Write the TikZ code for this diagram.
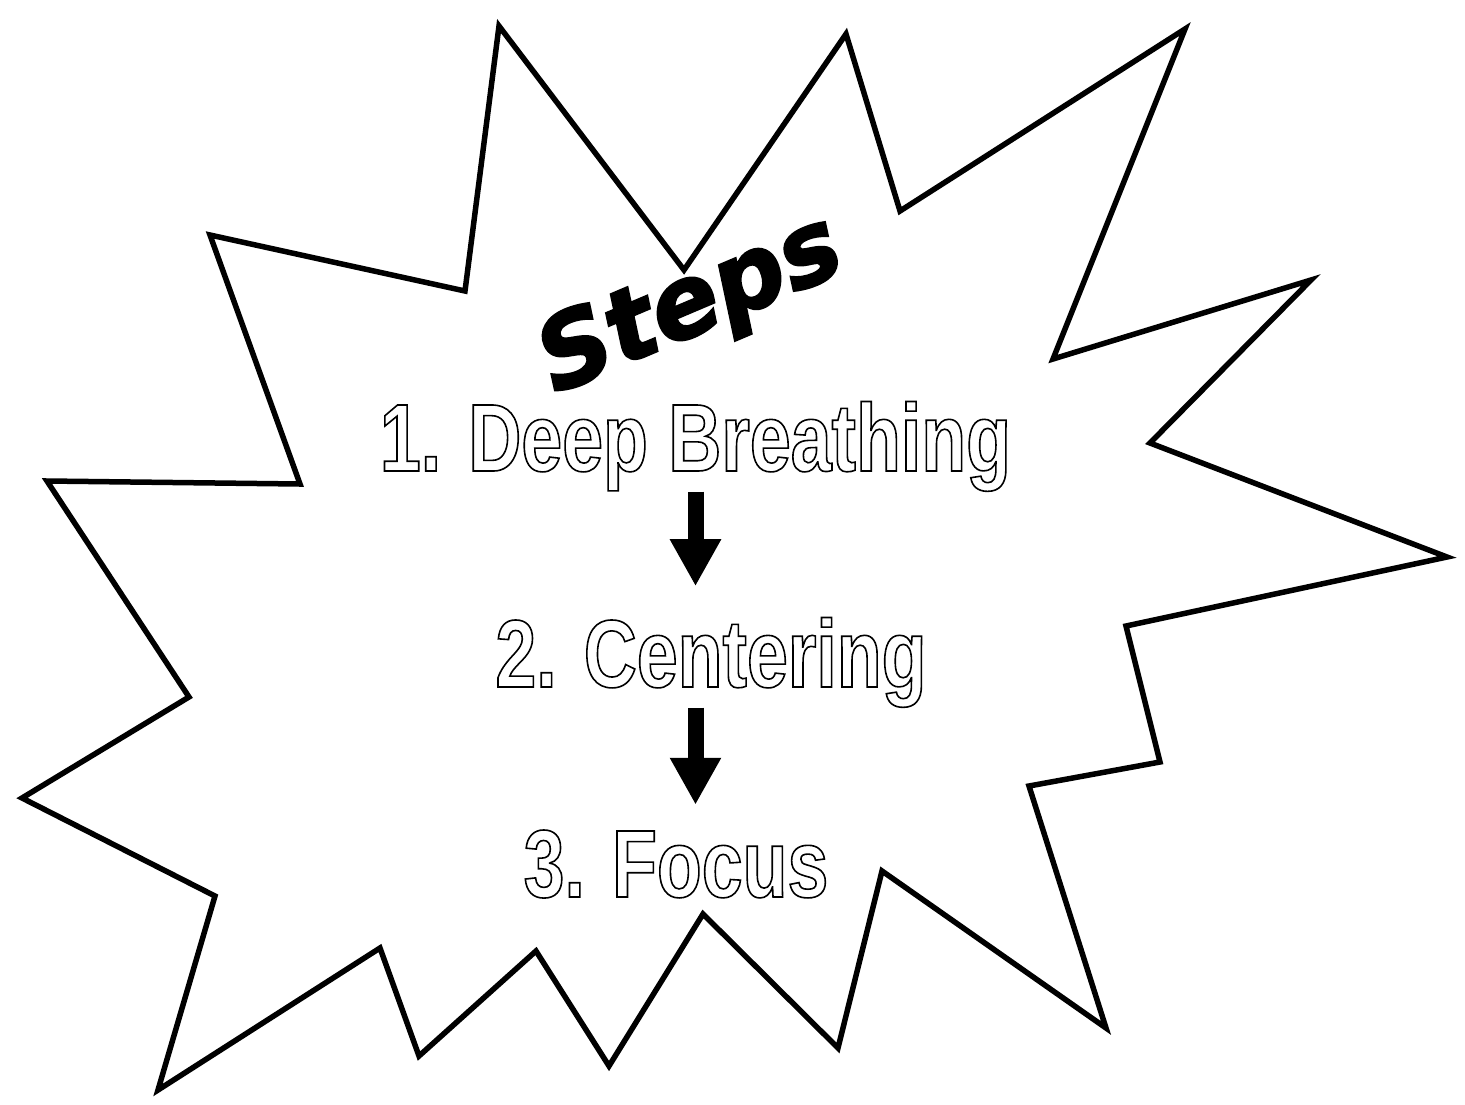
\documentclass[tikz,border=0pt]{standalone}
\usepackage{fontspec}
\usetikzlibrary{arrows.meta,calc}
\newfontfamily\stepfont[FakeStretch=0.765]{Liberation Sans}
\newfontfamily\titlefont[FakeBold=2.5]{DejaVu Sans}
\definecolor{ink}{HTML}{000000}
\definecolor{paper}{HTML}{FFFFFF}
\tikzset{
  burst/.style={draw=ink,fill=paper,line width=5.5pt,line join=miter,miter limit=10},
  steptext/.style={font=\stepfont\bfseries\fontsize{96}{110}\selectfont,text=ink,inner sep=0pt,anchor=base},
  titletext/.style={font=\titlefont\bfseries\itshape\fontsize{100}{110}\selectfont,text=ink,inner sep=0pt,anchor=base,rotate=23},
  steparrow/.style={draw=ink,line width=16pt,-{Triangle[length=47pt,width=48pt]}},
}
\newcommand{\outlined}[1]{\special{pdf:literal direct 1 Tr 1.6 w}#1\special{pdf:literal direct 0 Tr}}
\begin{document}
\begin{tikzpicture}[x=1pt,y=-1pt]
\useasboundingbox (0,0) rectangle (1465,1104);

% the burst outline
\draw[burst] (499,26) -- (684,270) -- (846,34) -- (900,211) -- (1185,29) -- (1053,359)
  -- (1311,280) -- (1150,443) -- (1447,557) -- (1126,626) -- (1160,762) -- (1029,786)
  -- (1106,1028) -- (882,871) -- (838,1048) -- (703,914) -- (609,1066) -- (536,951)
  -- (419,1056) -- (380,948) -- (158,1090) -- (215,896) -- (22,798) -- (189,697)
  -- (47,481) -- (300,484) -- (210,235) -- (465,291) -- cycle;

\node[steptext] (deep) at (695.5,471) {\outlined{1. Deep Breathing}};
\node[steptext] (centering) at (711,687) {\outlined{2. Centering}};
\node[steptext] (focus) at (676,897) {\outlined{3. Focus}};

\draw[steparrow,shorten >=31pt] (deep.south) -- (deep.south |- centering.north);
\draw[steparrow,shorten >=25pt] (centering.south -| deep.south) -- (focus.north -| deep.south);

\node[titletext] (title) at (702,332) {Steps};

\end{tikzpicture}
\end{document}
